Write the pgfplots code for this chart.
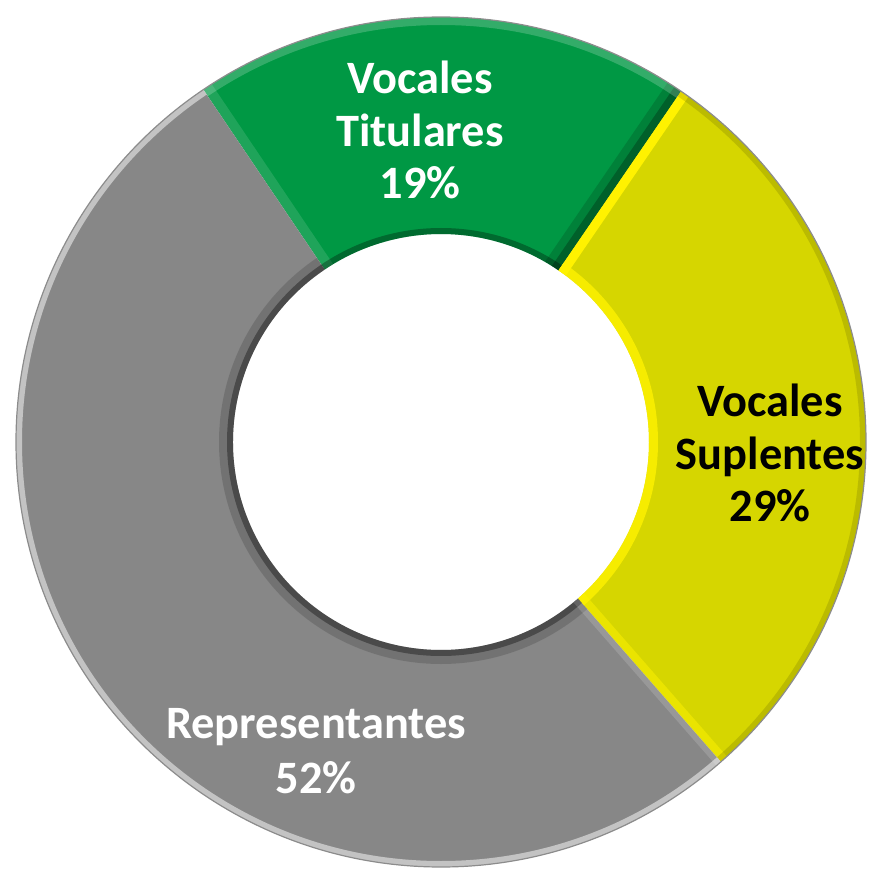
\documentclass[border=0pt]{standalone}
\usepackage{pgfplots}
\pgfplotsset{compat=1.18}
\usepackage{pgfplotstable}
\usepackage{fontspec}
\setmainfont{Carlito}
\definecolor{cgreen}{RGB}{0,152,68}
\definecolor{cyellow}{RGB}{214,214,0}
\definecolor{cgray}{RGB}{135,135,135}
\pgfplotstableread{
label value
Titulares 19
Suplentes 29
Representantes 52
}\donutdata
\begin{document}
\begin{tikzpicture}
\pgfplotstablegetelem{0}{value}\of\donutdata \let\va\pgfplotsretval
\pgfplotstablegetelem{1}{value}\of\donutdata \let\vb\pgfplotsretval
\pgfplotstablegetelem{2}{value}\of\donutdata \let\vc\pgfplotsretval
\def\cx{441}\def\cy{437}\def\Ro{425}\def\Ri{208}
\pgfmathsetmacro{\aA}{124}
\pgfmathsetmacro{\aB}{\aA-3.6*\va}
\pgfmathsetmacro{\aC}{\aB-3.6*\vb}
\pgfmathsetmacro{\aD}{\aC-3.6*\vc}
\pgfmathsetmacro{\RoPt}{\Ro*0.25}
\pgfmathsetmacro{\RiPt}{\Ri*0.25}
\def\slice#1#2{(axis cs:{\cx+\Ro*cos(#1)},{\cy+\Ro*sin(#1)}) arc[start angle=#1,end angle=#2,radius=\RoPt pt] -- (axis cs:{\cx+\Ri*cos(#2)},{\cy+\Ri*sin(#2)}) arc[start angle=#2,end angle=#1,radius=\RiPt pt] -- cycle}
\begin{axis}[x=0.25pt,y=0.25pt,xmin=0,xmax=872,ymin=0,ymax=879,hide axis,scale only axis,clip=false]
\coordinate (ll) at (axis cs:0,0);
\coordinate (ur) at (axis cs:872,879);
% slices
\fill[cgreen] \slice{\aA}{\aB};
\fill[cyellow] \slice{\aB}{\aC};
\fill[cgray] \slice{\aC}{\aD};
% bevel effects
\begin{scope}
\clip \slice{\aA}{\aB};
\draw[black,opacity=0.25,line width=4pt] (axis cs:{\cx+\Ri*cos(\aB)},{\cy+\Ri*sin(\aB)}) -- (axis cs:{\cx+\Ro*cos(\aB)},{\cy+\Ro*sin(\aB)});
\draw[black,opacity=0.15,line width=8pt] (axis cs:{\cx+\Ri*cos(\aB)},{\cy+\Ri*sin(\aB)}) -- (axis cs:{\cx+\Ro*cos(\aB)},{\cy+\Ro*sin(\aB)});
\draw[white,opacity=0.12,line width=5pt] (axis cs:{\cx+\Ri*cos(\aA)},{\cy+\Ri*sin(\aA)}) -- (axis cs:{\cx+\Ro*cos(\aA)},{\cy+\Ro*sin(\aA)});
\draw[black,opacity=0.3,line width=3pt] (axis cs:\cx,\cy) circle[radius=\RiPt pt];
\draw[white,opacity=0.2,line width=4pt] (axis cs:\cx,\cy) circle[radius=\RoPt pt];
\end{scope}
\begin{scope}
\clip \slice{\aB}{\aC};
\draw[yellow,line width=4.5pt] (axis cs:{\cx+\Ri*cos(\aB)},{\cy+\Ri*sin(\aB)}) -- (axis cs:{\cx+\Ro*cos(\aB)},{\cy+\Ro*sin(\aB)});
\draw[yellow,opacity=0.8,line width=4.5pt] (axis cs:\cx,\cy) circle[radius=\RiPt pt];
\draw[yellow,opacity=0.5,line width=4pt] (axis cs:{\cx+\Ri*cos(\aC)},{\cy+\Ri*sin(\aC)}) -- (axis cs:{\cx+\Ro*cos(\aC)},{\cy+\Ro*sin(\aC)});
\draw[black,opacity=0.12,line width=3pt] (axis cs:\cx,\cy) circle[radius=\RoPt pt];
\end{scope}
\begin{scope}
\clip \slice{\aC}{\aD};
\draw[black,opacity=0.35,line width=3pt] (axis cs:\cx,\cy) circle[radius=\RiPt pt];
\draw[black,opacity=0.15,line width=7pt] (axis cs:\cx,\cy) circle[radius=\RiPt pt];
\draw[white,opacity=0.5,line width=3pt] (axis cs:\cx,\cy) circle[radius=\RoPt pt];
\draw[white,opacity=0.15,line width=3pt] (axis cs:{\cx+\Ri*cos(\aC)},{\cy+\Ri*sin(\aC)}) -- (axis cs:{\cx+\Ro*cos(\aC)},{\cy+\Ro*sin(\aC)});
\end{scope}
\draw[black!45,line width=0.3pt] (axis cs:\cx,\cy) circle[radius=\RoPt pt];
% labels
\node[text=white,font=\fontsize{11.6}{13.2}\selectfont\bfseries,align=center] at (axis cs:420,749) {Vocales\\Titulares\\19\%};
\node[text=black,font=\fontsize{11.6}{13.2}\selectfont\bfseries,align=center] at (axis cs:770,426) {Vocales\\Suplentes\\29\%};
\node[text=white,font=\fontsize{11.6}{13.6}\selectfont\bfseries,align=center] at (axis cs:316,128) {Representantes\\52\%};
\end{axis}
\pgfresetboundingbox
\path (ll) rectangle (ur);
\end{tikzpicture}
\end{document}
